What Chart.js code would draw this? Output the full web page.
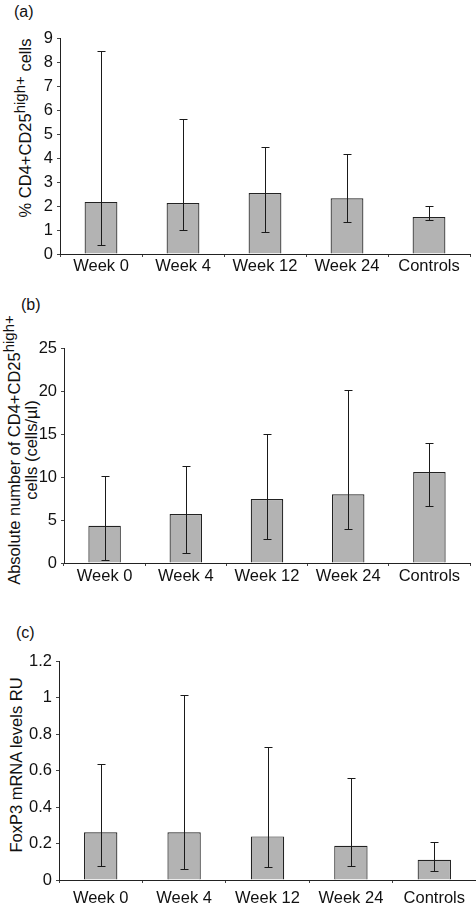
<!DOCTYPE html>
<html>
<head>
<meta charset="utf-8">
<script src="https://cdn.jsdelivr.net/npm/chart.js@4.4.1/dist/chart.umd.min.js"></script>
<style>
  body { margin: 0; background: #fff; }
  #wrap { position: relative; width: 476px; height: 908px; overflow: hidden; font-family: "Liberation Sans", Arial, sans-serif; color: #111; }
  canvas { position: absolute; left: 0; }
  .panel { position: absolute; font-size: 16px; line-height: 1; }
  .ytitle { position: absolute; font-size: 16.5px; line-height: 1; white-space: nowrap; transform: translate(-50%, -50%) rotate(-90deg); }
  .ytitle sup { font-size: 15px; vertical-align: baseline; position: relative; top: -6px; }
  .two { text-align: center; line-height: 17px; }
</style>
</head>
<body>
<div id="wrap">
  <div class="panel" style="left:14px;top:4px">(a)</div>
  <div class="panel" style="left:21px;top:297px">(b)</div>
  <div class="panel" style="left:16px;top:625px">(c)</div>

  <div class="ytitle" style="left:25px;top:128px">% CD4+CD25<sup>high+</sup> cells</div>
  <div class="ytitle two" style="left:23px;top:450px">Absolute number of CD4+CD25<sup>high+</sup><br>cells (cells/µl)</div>
  <div class="ytitle" style="left:16px;top:765px">FoxP3 mRNA levels RU</div>

  <canvas id="chartA" width="476" height="290" style="top:0"></canvas>
  <canvas id="chartB" width="476" height="310" style="top:290px"></canvas>
  <canvas id="chartC" width="476" height="330" style="top:600px"></canvas>
</div>
<script>
const categories = ['Week 0', 'Week 4', 'Week 12', 'Week 24', 'Controls'];

// (a) % CD4+CD25high+ cells
const pctMedian = [2.17, 2.12, 2.54, 2.32, 1.54];
const pctLow = [0.37, 1.01, 0.92, 1.33, 1.43];
const pctHigh = [8.47, 5.62, 4.46, 4.15, 1.98];

// (b) absolute number (cells/µl)
const absMedian = [4.34, 5.70, 7.44, 7.98, 10.58];
const absLow = [0.39, 1.16, 2.75, 3.95, 6.67];
const absHigh = [10.08, 11.28, 15.0, 20.16, 13.91];

// (c) FoxP3 mRNA levels RU
const foxMedian = [0.261, 0.261, 0.239, 0.188, 0.111];
const foxLow = [0.077, 0.062, 0.073, 0.077, 0.051];
const foxHigh = [0.633, 1.014, 0.731, 0.56, 0.21];

const fontFamily = '"Liberation Sans", Arial, sans-serif';

// error bars drawn from the low/high arrays through the chart scales
const errorBars = {
  id: 'errorBars',
  afterDatasetsDraw(chart, args, opts) {
    const ctx = chart.ctx;
    const x = chart.scales.x;
    const y = chart.scales.y;
    ctx.save();
    ctx.strokeStyle = '#1a1a1a';
    ctx.lineWidth = 1;
    opts.low.forEach((lo, i) => {
      const px = Math.round(x.getPixelForValue(i)) + 0.5;
      const y1 = Math.round(y.getPixelForValue(lo)) + 0.5;
      const y2 = Math.round(y.getPixelForValue(opts.high[i])) + 0.5;
      ctx.beginPath();
      ctx.moveTo(px, y1);
      ctx.lineTo(px, y2);
      ctx.moveTo(px - 4, y1);
      ctx.lineTo(px + 4, y1);
      ctx.moveTo(px - 4, y2);
      ctx.lineTo(px + 4, y2);
      ctx.stroke();
    });
    ctx.restore();
  },
};

function makeChart(id, values, low, high, s) {
  return new Chart(document.getElementById(id), {
    type: 'bar',
    data: {
      labels: categories,
      datasets: [{
        data: values,
        backgroundColor: '#b3b3b3',
        borderColor: '#222',
        borderWidth: 1.2,
        categoryPercentage: 1,
        barPercentage: 0.4,
      }],
    },
    options: {
      responsive: false,
      animation: false,
      devicePixelRatio: 1,
      layout: { padding: { top: s.top, right: s.right, left: 0, bottom: 0 } },
      plugins: {
        legend: { display: false },
        tooltip: { enabled: false },
        errorBars: { low: low, high: high },
      },
      scales: {
        x: {
          afterFit: (sc) => { sc.height = s.bottom; },
          grid: { display: true, drawOnChartArea: false, offset: true, tickLength: 3, color: '#444' },
          border: { color: '#222', width: 1 },
          ticks: { color: '#111', padding: s.xPad, maxRotation: 0, font: { family: fontFamily, size: 16.5 } },
        },
        y: {
          min: 0,
          max: s.max,
          afterFit: (sc) => { sc.width = s.left; },
          grid: { display: true, drawOnChartArea: false, tickLength: 3, color: '#444' },
          border: { color: '#222', width: 1 },
          ticks: {
            stepSize: s.step,
            color: '#111',
            padding: 4,
            font: { family: fontFamily, size: 16.5 },
            callback: (v) => String(Math.round(v * 10) / 10),
          },
        },
      },
    },
    plugins: [errorBars],
  });
}

makeChart('chartA', pctMedian, pctLow, pctHigh, { max: 9, step: 1, left: 60, right: 6, top: 38, bottom: 36, xPad: 0 });
makeChart('chartB', absMedian, absLow, absHigh, { max: 25, step: 5, left: 64, right: 6, top: 58, bottom: 37, xPad: 1 });
makeChart('chartC', foxMedian, foxLow, foxHigh, { max: 1.2, step: 0.2, left: 59, right: 0, top: 61, bottom: 50, xPad: 6 });
</script>
</body>
</html>
